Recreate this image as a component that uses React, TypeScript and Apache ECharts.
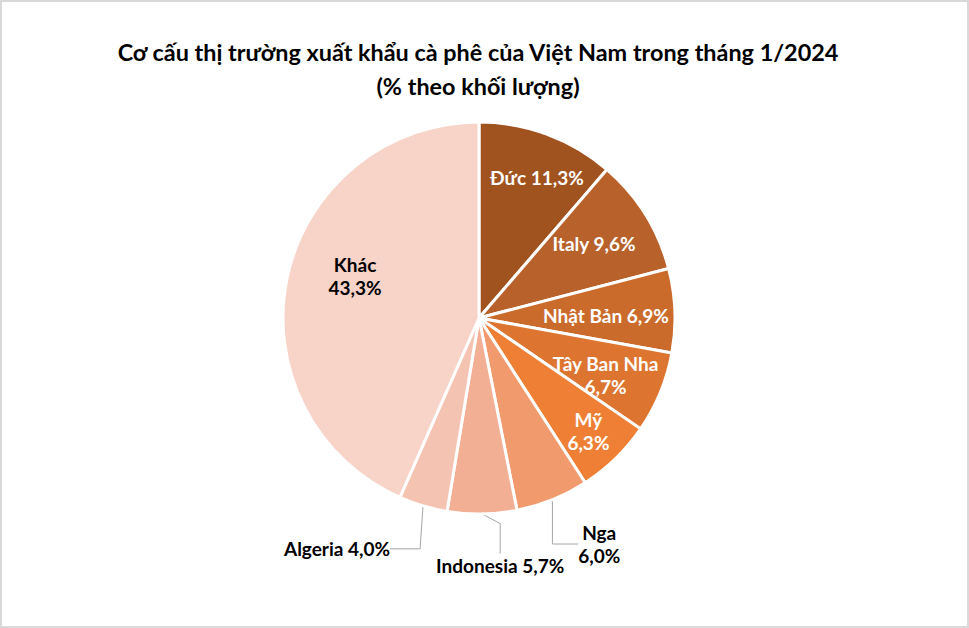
import React, { useEffect, useRef } from 'react';
import * as echarts from 'echarts';

const titleLines = ['Cơ cấu thị trường xuất khẩu cà phê của Việt Nam trong tháng 1/2024', '(% theo khối lượng)'];
const markets = ['Đức', 'Italy', 'Nhật Bản', 'Tây Ban Nha', 'Mỹ', 'Nga', 'Indonesia', 'Algeria', 'Khác'];
const shares = [11.3, 9.6, 6.9, 6.7, 6.3, 6.0, 5.7, 4.0, 43.3];

// styling / layout (not data)
const colors = ['#A0521F', '#B8612A', '#CA6B2C', '#DD7531', '#EE7F35', '#F09A6E', '#F2AF93', '#F5C3B1', '#F7D3C8'];
const insideLabel = [true, true, true, true, true, false, false, false, true];
const twoLine = [false, false, false, true, true, true, false, false, true];
const labelColor = ['#fff', '#fff', '#fff', '#fff', '#fff', '#000', '#000', '#000', '#000'];
const labelRadius = [152, 137, 127, 139, 157, 256, 248, 271, 131];
const labelShift = [2, -1, 1, 2, 0, -6, -4, 15, 7];
const CX = 479, CY = 318, R = 196;
const FONT = 'Lato, "Open Sans", sans-serif';

const fmt = (v: number) => v.toFixed(1).replace('.', ',') + '%';

export default function App() {
  const ref = useRef<HTMLDivElement>(null);
  useEffect(() => {
    if (!ref.current) return;
    const chart = echarts.init(ref.current, null, { renderer: 'svg' });
    const total = shares.reduce((a, b) => a + b, 0);
    const data = markets.map((name, i) => ({
      name,
      value: shares[i],
      itemStyle: { color: colors[i] },
      label: {
        position: insideLabel[i] ? 'inside' : 'outside',
        color: labelColor[i],
      },
      labelLine: insideLabel[i]
        ? { show: false }
        : { show: true, lineStyle: { color: '#A6A6A6', width: 1 } },
    }));
    chart.setOption({
      animation: false,
      backgroundColor: '#fff',
      graphic: [
        {
          type: 'rect',
          shape: { x: 1, y: 1, width: 967, height: 626 },
          style: { fill: 'none', stroke: '#D9D9D9', lineWidth: 2 },
          silent: true,
        },
        {
          type: 'text',
          x: 478,
          y: 35,
          silent: true,
          style: {
            text: titleLines.join('\n'),
            align: 'center',
            verticalAlign: 'top',
            fontFamily: FONT,
            fontWeight: 'bold',
            fontSize: 23.4,
            lineHeight: 34,
            fill: '#000',
          },
        },
      ],
      series: [
        {
          type: 'pie',
          center: [CX, CY],
          radius: R,
          startAngle: 90,
          clockwise: true,
          avoidLabelOverlap: false,
          itemStyle: { borderColor: '#fff', borderWidth: 3 },
          label: {
            show: true,
            fontFamily: FONT,
            fontWeight: 'bold',
            fontSize: 19,
            lineHeight: 23,
            formatter: (p: any) => p.name + (twoLine[p.dataIndex] ? '\n' : ' ') + fmt(p.value),
          },
          labelLayout: (p: any) => {
            const i = p.dataIndex;
            let cum = 0;
            for (let k = 0; k < i; k++) cum += shares[k];
            const mid = ((cum + shares[i] / 2) / total) * 360 + labelShift[i];
            const rad = (mid * Math.PI) / 180;
            return {
              x: CX + labelRadius[i] * Math.sin(rad),
              y: CY - labelRadius[i] * Math.cos(rad),
              align: 'center',
              verticalAlign: 'middle',
            };
          },
          emphasis: { disabled: true },
          data,
        },
      ],
    });
    return () => chart.dispose();
  }, []);
  return (
    <div
      ref={ref}
      style={{ position: 'absolute', left: 0, top: 0, width: 969, height: 628, background: '#fff' }}
    />
  );
}
